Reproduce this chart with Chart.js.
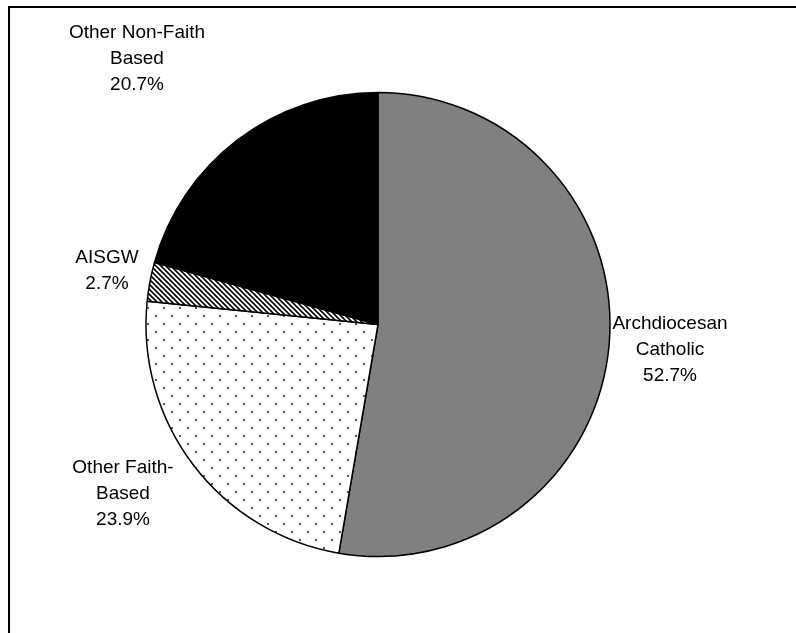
<!DOCTYPE html>
<html>
<head>
<meta charset="utf-8">
<script src="https://cdn.jsdelivr.net/npm/chart.js@4"></script>
<style>
  html, body { margin: 0; padding: 0; background: #fff; }
  #wrap { width: 796px; height: 633px; }
</style>
</head>
<body>
<div id="wrap"><canvas id="pie" width="796" height="633"></canvas></div>
<script>
const categories = ['Archdiocesan Catholic', 'Other Faith-Based', 'AISGW', 'Other Non-Faith Based'];
const categoryLines = [['Archdiocesan', 'Catholic'], ['Other Faith-', 'Based'], ['AISGW'], ['Other Non-Faith', 'Based']];
const shares = [52.7, 23.9, 2.7, 20.7];

// Excel-ish fill patterns
function dotPattern() {
  const c = document.createElement('canvas');
  c.width = 16; c.height = 16;
  const g = c.getContext('2d');
  g.fillStyle = '#fff';
  g.fillRect(0, 0, 16, 16);
  g.fillStyle = '#555';
  g.fillRect(3, 3, 2, 2);
  g.fillRect(11, 11, 2, 2);
  return g.createPattern(c, 'repeat');
}

function hatchPattern() {
  const n = 5;
  const c = document.createElement('canvas');
  c.width = n; c.height = n;
  const g = c.getContext('2d');
  g.fillStyle = '#fff';
  g.fillRect(0, 0, n, n);
  g.strokeStyle = '#000';
  g.lineWidth = 1.6;
  g.beginPath();
  g.moveTo(-1, -1); g.lineTo(n + 1, n + 1);
  g.moveTo(-1, n - 1); g.lineTo(1, n + 1);
  g.moveTo(n - 1, -1); g.lineTo(n + 1, 1);
  g.stroke();
  return g.createPattern(c, 'repeat');
}

const fills = ['#808080', dotPattern(), hatchPattern(), '#000000'];

// where the text blocks sit (centre x, first line y)
const labelPos = [
  { x: 670, y: 324 },
  { x: 123, y: 468 },
  { x: 107, y: 258 },
  { x: 137, y: 33 },
];

const framePlugin = {
  id: 'frame',
  beforeDraw(chart) {
    const ctx = chart.ctx;
    ctx.save();
    ctx.fillStyle = '#fff';
    ctx.fillRect(0, 0, chart.width, chart.height);
    ctx.strokeStyle = '#000';
    ctx.lineWidth = 2;
    ctx.strokeRect(9, 7, 900, 800);
    ctx.restore();
  },
};

const labelPlugin = {
  id: 'sliceLabels',
  afterDraw(chart) {
    const ctx = chart.ctx;
    ctx.save();
    ctx.font = '19px "Liberation Sans", Arial, sans-serif';
    ctx.fillStyle = '#000';
    ctx.textAlign = 'center';
    ctx.textBaseline = 'middle';
    categoryLines.forEach((lines, i) => {
      const all = [...lines, shares[i].toFixed(1) + '%'];
      const p = labelPos[i];
      all.forEach((t, k) => ctx.fillText(t, p.x, p.y + k * 26));
    });
    ctx.restore();
  },
};

new Chart(document.getElementById('pie').getContext('2d'), {
  type: 'pie',
  data: {
    labels: categories,
    datasets: [{
      data: shares,
      backgroundColor: fills,
      borderColor: '#000',
      borderWidth: 1.5,
      hoverOffset: 0,
    }],
  },
  options: {
    responsive: false,
    animation: false,
    events: [],
    radius: 232,
    layout: { padding: { left: 0, right: 40, top: 16, bottom: 0 } },
    plugins: {
      legend: { display: false },
      tooltip: { enabled: false },
    },
  },
  plugins: [framePlugin, labelPlugin],
});
</script>
</body>
</html>
